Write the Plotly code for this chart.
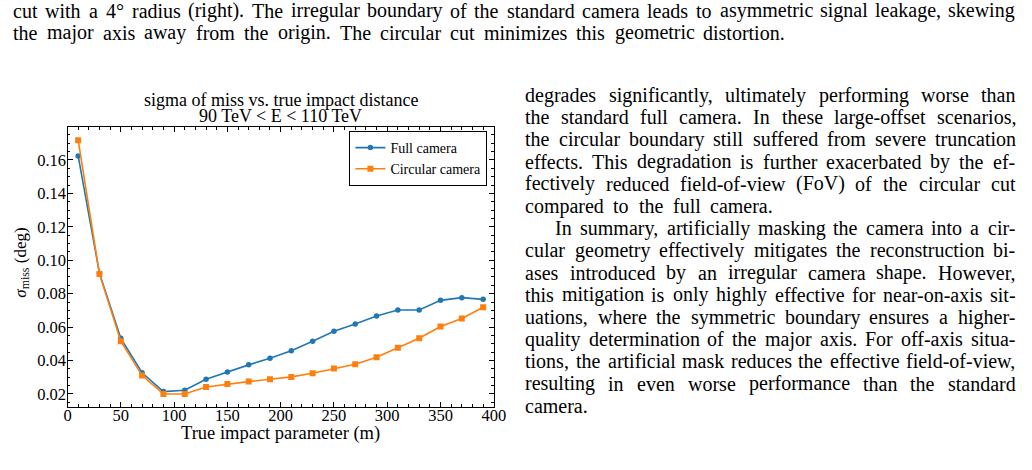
import plotly.graph_objects as go

# ---- data ----
impact = [10, 30, 50, 70, 90, 110, 130, 150, 170, 190, 210, 230, 250, 270, 290, 310, 330, 350, 370, 390]
full_camera = [0.1624, 0.0922, 0.0533, 0.0327, 0.0214, 0.0222, 0.0288, 0.0332, 0.0374, 0.0414,
               0.0458, 0.0515, 0.0575, 0.0619, 0.0666, 0.0702, 0.0702, 0.0760, 0.0776, 0.0766]
circular_camera = [0.1718, 0.0918, 0.0516, 0.0310, 0.0200, 0.0200, 0.0242, 0.0260, 0.0274, 0.0288,
                   0.0302, 0.0324, 0.0352, 0.0378, 0.0420, 0.0477, 0.0533, 0.0603, 0.0651, 0.0719]
series_names = ["Full camera", "Circular camera"]

chart_title = ["sigma of miss vs. true impact distance", "90 TeV &lt; E &lt; 110 TeV"]
x_label = "True impact parameter (m)"
y_label = "<i>σ</i><sub>miss</sub> (deg)"

top_lines = [
    "cut with a 4° radius (right). The irregular boundary of the standard camera leads to asymmetric signal leakage, skewing",
    "the major axis away from the origin. The circular cut minimizes this geometric distortion.",
]
right_lines = [
    "degrades significantly, ultimately performing worse than",
    "the standard full camera. In these large-offset scenarios,",
    "the circular boundary still suffered from severe truncation",
    "effects. This degradation is further exacerbated by the ef-",
    "fectively reduced field-of-view (FoV) of the circular cut",
    "compared to the full camera.",
    "In summary, artificially masking the camera into a cir-",
    "cular geometry effectively mitigates the reconstruction bi-",
    "ases introduced by an irregular camera shape. However,",
    "this mitigation is only highly effective for near-on-axis sit-",
    "uations, where the symmetric boundary ensures a higher-",
    "quality determination of the major axis. For off-axis situa-",
    "tions, the artificial mask reduces the effective field-of-view,",
    "resulting in even worse performance than the standard",
    "camera.",
]

W, H = 1032, 470
SERIF = "Liberation Serif"
BODY_FS = 20

# Times-compatible advance widths (per 1000 em) used to justify the page text
_TW = {' ': 250, '!': 333, '(': 333, ')': 333, ',': 250, '-': 333, '.': 250, ':': 278, ';': 278,
       '°': 400, '0': 500, '1': 500, '2': 500, '3': 500, '4': 500, '5': 500, '6': 500, '7': 500,
       '8': 500, '9': 500,
       'A': 722, 'B': 667, 'C': 667, 'D': 722, 'E': 611, 'F': 556, 'G': 722, 'H': 722, 'I': 333,
       'J': 389, 'K': 722, 'L': 611, 'M': 889, 'N': 722, 'O': 722, 'P': 556, 'Q': 722, 'R': 667,
       'S': 556, 'T': 611, 'U': 722, 'V': 722, 'W': 944, 'X': 722, 'Y': 722, 'Z': 611,
       'a': 444, 'b': 500, 'c': 444, 'd': 500, 'e': 444, 'f': 333, 'g': 500, 'h': 500, 'i': 278,
       'j': 278, 'k': 500, 'l': 278, 'm': 778, 'n': 500, 'o': 500, 'p': 500, 'q': 500, 'r': 333,
       's': 389, 't': 278, 'u': 500, 'v': 500, 'w': 722, 'x': 500, 'y': 500, 'z': 444}


def word_width(w, fs):
    return sum(_TW.get(c, 500) for c in w) * fs / 1000.0


def px(x):
    return x / W


def py(y):
    return 1 - y / H


fig = go.Figure()
fig.add_trace(go.Scatter(x=impact, y=full_camera, mode="lines+markers", name=series_names[0],
                         line=dict(color="#1f77b4", width=1.6),
                         marker=dict(symbol="circle", size=5.5, color="#1f77b4")))
fig.add_trace(go.Scatter(x=impact, y=circular_camera, mode="lines+markers", name=series_names[1],
                         line=dict(color="#ff7f0e", width=1.6),
                         marker=dict(symbol="square", size=6, color="#ff7f0e")))

tickfont = dict(family=SERIF, size=16.5, color="black")
ax_common = dict(showline=True, linecolor="black", linewidth=1.2, mirror=True,
                 ticks="inside", ticklen=5, tickwidth=1, tickcolor="black",
                 showgrid=False, zeroline=False, tickfont=tickfont)
xminor = dict(dtick=10, ticks="inside", ticklen=2.5, tickcolor="black")
yminor = dict(dtick=0.005, ticks="inside", ticklen=2.5, tickcolor="black")
xdom = [px(64.5), px(497.5)]
ydom = [py(407), py(127)]

fig.update_layout(
    width=W, height=H, margin=dict(l=0, r=0, t=0, b=0),
    paper_bgcolor="white", plot_bgcolor="white",
    xaxis=dict(domain=xdom, range=[0, 400], tick0=0, dtick=50, minor=xminor,
               ticklabelstandoff=-7, **ax_common),
    yaxis=dict(domain=ydom, range=[0.0122, 0.1797], tick0=0, dtick=0.02,
               tickformat=".2f", minor=yminor, ticklabelstandoff=-3, **ax_common),
    xaxis2=dict(domain=xdom, matches="x", overlaying="x", anchor="y", side="top",
                tick0=0, dtick=50, ticks="inside", ticklen=5, tickcolor="black",
                minor=xminor, showticklabels=False, showgrid=False, zeroline=False),
    yaxis2=dict(domain=ydom, matches="y", overlaying="y", anchor="x", side="right",
                tick0=0, dtick=0.02, ticks="inside", ticklen=5, tickcolor="black",
                minor=yminor, showticklabels=False, showgrid=False, zeroline=False),
    legend=dict(x=px(491), y=py(131), xanchor="right", yanchor="top",
                bordercolor="black", borderwidth=1, bgcolor="white",
                font=dict(family=SERIF, size=14, color="black"),
                itemwidth=30, tracegroupgap=0),
    showlegend=True,
)
# invisible helper trace so the mirrored top/right axes are drawn
fig.add_trace(go.Scatter(x=[impact[0]], y=[full_camera[0]], xaxis="x2", yaxis="y2",
                         mode="markers", marker=dict(opacity=0), showlegend=False,
                         hoverinfo="skip"))

ann = []
for i, t in enumerate(chart_title):
    ann.append(dict(text=t, x=px(281), y=py(99.5 + 16.5 * i), xanchor="center", yanchor="middle",
                    font=dict(family=SERIF, size=18, color="black")))
ann.append(dict(text=x_label, x=px(281), y=py(433), xanchor="center", yanchor="middle",
                font=dict(family=SERIF, size=18.5, color="black")))
ann.append(dict(text=y_label, x=px(18), y=py(263), xanchor="center", yanchor="middle",
                textangle=-90, font=dict(family=SERIF, size=17, color="black")))


def add_line(text, left, right, yc, justify):
    words = text.split(" ")
    widths = [word_width(w, BODY_FS) for w in words]
    if justify and len(words) > 1:
        gap = (right - left - sum(widths)) / (len(words) - 1)
    else:
        gap = _TW[' '] * BODY_FS / 1000.0
    x = left
    for w, wd in zip(words, widths):
        ann.append(dict(text=w, x=px(x), y=py(yc), xanchor="left", yanchor="middle",
                        font=dict(family=SERIF, size=BODY_FS, color="black")))
        x += wd + gap


# right edges of each text line as laid out on the page
top_right = [1024, 790]
right_col_right = [1025] * len(right_lines)
right_col_right[5] = 778

for i, t in enumerate(top_lines):
    add_line(t, 7, top_right[i], 11 + 21.5 * i, justify=True)
for i, t in enumerate(right_lines):
    left = 558 if t.startswith("In summary") else 527.5
    last = i == len(right_lines) - 1
    add_line(t, left, right_col_right[i], 95 + 22.2 * i, justify=not last)

for a in ann:
    a.update(xref="paper", yref="paper", showarrow=False)
fig.update_layout(annotations=ann)

fig.write_html("out.html")
